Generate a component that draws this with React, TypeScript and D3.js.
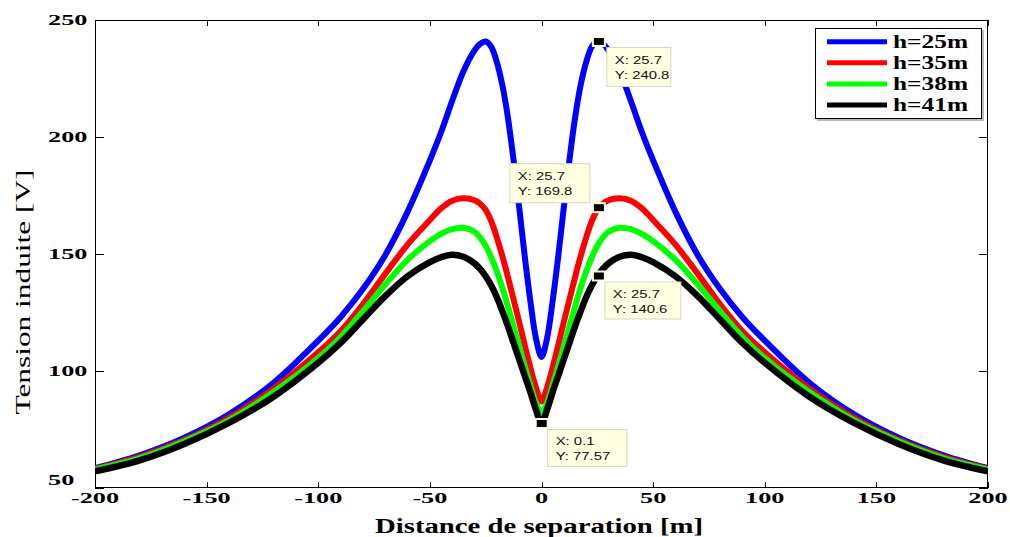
import React, { useEffect, useRef } from 'react';
import * as d3 from 'd3';

// ---------- data ----------
const xValues = [
  -200, -180, -160, -140, -120, -100, -90, -80, -70, -60, -50, -45, -40, -35, -30, -27.5, -25, -22.5, -20, -17.5, -15, -12.5, -10, -7.5, -5, -2.5, 0,
  2.5, 5, 7.5, 10, 12.5, 15, 17.5, 20, 22.5, 25, 27.5, 30, 35, 40, 45, 50, 60, 70, 80, 90, 100, 120, 140, 160, 180, 200,
];

const h25 = [
  58.5, 64, 71.5, 81.5, 95, 113, 123, 135, 149.5, 168, 190, 202, 215.5, 228, 237, 239.8, 240.8, 238.5, 232, 222, 208, 190, 170, 149, 130, 114, 106,
  114, 130, 149, 170, 190, 208, 222, 232, 238.5, 240.8, 239.8, 237, 228, 215.5, 202, 190, 168, 149.5, 135, 123, 113, 95, 81.5, 71.5, 64, 58.5,
];

const h35 = [
  58.2, 63.3, 70.5, 80, 92.5, 108, 117, 128.5, 141.5, 154, 164.5, 169.5, 172.8, 173.8, 173, 171.5, 168.8, 164, 157, 149, 140, 130.5, 121, 111, 101.5, 93, 87,
  93, 101.5, 111, 121, 130.5, 140, 149, 157, 164, 168.8, 171.5, 173, 173.8, 172.8, 169.5, 164.5, 154, 141.5, 128.5, 117, 108, 92.5, 80, 70.5, 63.3, 58.2,
];

const h38 = [
  57.9, 62.8, 70, 79, 91, 105.5, 114.5, 125.5, 137, 147.5, 155.5, 158.6, 160.6, 161.2, 159.5, 157, 153.5, 148.5, 142.5, 135.5, 127.5, 119, 110.5, 102, 94, 86.5, 82,
  86.5, 94, 102, 110.5, 119, 127.5, 135.5, 142.5, 148.5, 153.5, 157, 159.5, 161.2, 160.6, 158.6, 155.5, 147.5, 137, 125.5, 114.5, 105.5, 91, 79, 70, 62.8, 57.9,
];

const h41 = [
  57.1, 61.8, 68.8, 77.8, 89, 103.5, 112, 122, 132, 140.5, 146.5, 148.6, 149.7, 148.8, 146, 143.6, 140.5, 136.5, 131.5, 125.5, 119, 112, 105, 98, 91, 83.5, 77.57,
  83.5, 91, 98, 105, 112, 119, 125.5, 131.5, 136.5, 140.5, 143.6, 146, 148.8, 149.7, 148.6, 146.5, 140.5, 132, 122, 112, 103.5, 89, 77.8, 68.8, 61.8, 57.1,
];

const seriesNames = ['h=25m', 'h=35m', 'h=38m', 'h=41m'];
const seriesValues = [h25, h35, h38, h41];
const seriesColors = ['#0000ff', '#ff0000', '#00ff00', '#000000'];

const xTickValues = [-200, -150, -100, -50, 0, 50, 100, 150, 200];
const yTickValues = [50, 100, 150, 200, 250];

const tipX = [25.7, 25.7, 25.7, 0.1];
const tipY = [240.8, 169.8, 140.6, 77.57];
const tipXLabels = ['25.7', '25.7', '25.7', '0.1'];
const tipYLabels = ['240.8', '169.8', '140.6', '77.57'];

const xTitle = 'Distance de separation [m]';
const yTitle = 'Tension induite [V]';

// ---------- layout ----------
const W = 1010;
const H = 537;
const L = 95, R = 988, T = 20, B = 488;
// data tip box placement relative to marker: [dx, dy, w, h]
const tipBoxes = [
  [8, 6, 64, 39],
  [-89, -44, 80, 39],
  [6, 6, 76, 37],
  [6, 6, 79, 37],
];
const SERIF = '"Liberation Serif", "Times New Roman", serif';
const SANS = '"Liberation Sans", Arial, Helvetica, sans-serif';

function stretch(sel: d3.Selection<SVGTextElement, any, any, any>, factor: number) {
  sel.each(function () {
    const len = (this as SVGTextElement).getComputedTextLength();
    d3.select(this).attr('textLength', len * factor).attr('lengthAdjust', 'spacingAndGlyphs');
  });
}
function stretchTo(sel: d3.Selection<SVGTextElement, any, any, any>, width: number) {
  sel.attr('textLength', width).attr('lengthAdjust', 'spacingAndGlyphs');
}

export default function App() {
  const ref = useRef<SVGSVGElement>(null);

  useEffect(() => {
    const svg = d3.select(ref.current!);
    svg.selectAll('*').remove();

    const x = d3.scaleLinear().domain([-200, 200]).range([L, R]);
    const y = d3.scaleLinear().domain([50, 250]).range([B, T]);

    svg.append('rect').attr('width', W).attr('height', H).attr('fill', '#ffffff');

    svg.append('defs').append('clipPath').attr('id', 'plotclip')
      .append('rect').attr('x', L).attr('y', T).attr('width', R - L).attr('height', B - T);

    // axes box
    const axisG = svg.append('g').attr('stroke', '#000').attr('stroke-width', 1).attr('fill', 'none');
    axisG.append('rect').attr('x', L + 0.5).attr('y', T + 0.5).attr('width', R - L - 1).attr('height', B - T - 1);

    // ticks
    xTickValues.forEach((v) => {
      const px = Math.round(x(v)) + 0.5;
      axisG.append('line').attr('x1', px).attr('x2', px).attr('y1', B).attr('y2', B - 6);
      axisG.append('line').attr('x1', px).attr('x2', px).attr('y1', T).attr('y2', T + 6);
    });
    yTickValues.forEach((v) => {
      const py = Math.round(y(v)) + 0.5;
      axisG.append('line').attr('x1', L).attr('x2', L + 9).attr('y1', py).attr('y2', py);
      axisG.append('line').attr('x1', R).attr('x2', R - 9).attr('y1', py).attr('y2', py);
    });

    // tick labels
    const xl = svg.append('g').selectAll('text').data(xTickValues).enter().append('text')
      .attr('x', (d) => x(d)).attr('y', 503)
      .attr('text-anchor', 'middle')
      .attr('font-family', SERIF).attr('font-weight', 'bold').attr('font-size', 15)
      .text((d) => String(d));
    stretch(xl as any, 1.75);

    const yl = svg.append('g').selectAll('text').data(yTickValues).enter().append('text')
      .attr('x', 48).attr('y', (d) => Math.min(y(d), 480) + 5)
      .attr('text-anchor', 'start')
      .attr('font-family', SERIF).attr('font-weight', 'bold').attr('font-size', 15)
      .text((d) => String(d));
    stretch(yl as any, 1.75);

    // axis titles
    const xt = svg.append('text').attr('x', 539).attr('y', 533).attr('text-anchor', 'middle')
      .attr('font-family', SERIF).attr('font-weight', 'bold').attr('font-size', 20).text(xTitle);
    stretchTo(xt as any, 328);
    const yt = svg.append('text').attr('transform', 'translate(30,292) rotate(-90)').attr('text-anchor', 'middle')
      .attr('font-family', SERIF).attr('font-size', 22).text(yTitle);
    stretchTo(yt as any, 245);

    // curves
    const line = d3.line<number>()
      .x((_, i) => x(xValues[i]))
      .y((d) => y(d))
      .curve(d3.curveCatmullRom.alpha(0.5));
    const plot = svg.append('g').attr('clip-path', 'url(#plotclip)');
    seriesValues.forEach((vals, i) => {
      plot.append('path').attr('d', line(vals)!).attr('fill', 'none')
        .attr('stroke', seriesColors[i]).attr('stroke-width', i === 3 ? 6.5 : 6)
        .attr('stroke-linejoin', 'round').attr('stroke-linecap', 'round');
    });

    // data tips
    const tipG = svg.append('g');
    tipX.forEach((tx, i) => {
      const mx = x(tx), my = y(tipY[i]);
      const [dx, dy, bw, bh] = tipBoxes[i];
      const bx = mx + dx, by = my + dy;
      tipG.append('rect').attr('x', bx).attr('y', by).attr('width', bw).attr('height', bh)
        .attr('fill', '#ffffe1').attr('stroke', '#d6d6c2').attr('stroke-width', 1);
      const t1 = tipG.append('text').attr('x', bx + 8).attr('y', by + 16)
        .attr('font-family', SANS).attr('font-size', 11).attr('fill', '#111').text('X: ' + tipXLabels[i]);
      const t2 = tipG.append('text').attr('x', bx + 8).attr('y', by + 31)
        .attr('font-family', SANS).attr('font-size', 11).attr('fill', '#111').text('Y: ' + tipYLabels[i]);
      stretch(t1 as any, 1.35);
      stretch(t2 as any, 1.35);
      tipG.append('rect').attr('x', mx - 6).attr('y', my - 4.5).attr('width', 12).attr('height', 9)
        .attr('fill', '#000').attr('stroke', '#ffffe1').attr('stroke-width', 2);
    });

    // legend
    const lg = svg.append('g');
    lg.append('rect').attr('x', 817).attr('y', 30).attr('width', 167).attr('height', 91).attr('fill', '#bbb');
    lg.append('rect').attr('x', 815.5).attr('y', 28.5).attr('width', 166).attr('height', 90)
      .attr('fill', '#fff').attr('stroke', '#000').attr('stroke-width', 1);
    seriesNames.forEach((name, i) => {
      const ly = 41.7 + i * 21.1;
      lg.append('line').attr('x1', 827).attr('x2', 887).attr('y1', ly).attr('y2', ly)
        .attr('stroke', seriesColors[i]).attr('stroke-width', 5);
      const t = lg.append('text').attr('x', 893).attr('y', ly + 6)
        .attr('font-family', SERIF).attr('font-weight', 'bold').attr('font-size', 18).text(name);
      stretchTo(t as any, 75);
    });
  }, []);

  return (
    <svg ref={ref} width={W} height={H} style={{ position: 'absolute', left: 0, top: 0, display: 'block' }} />
  );
}
